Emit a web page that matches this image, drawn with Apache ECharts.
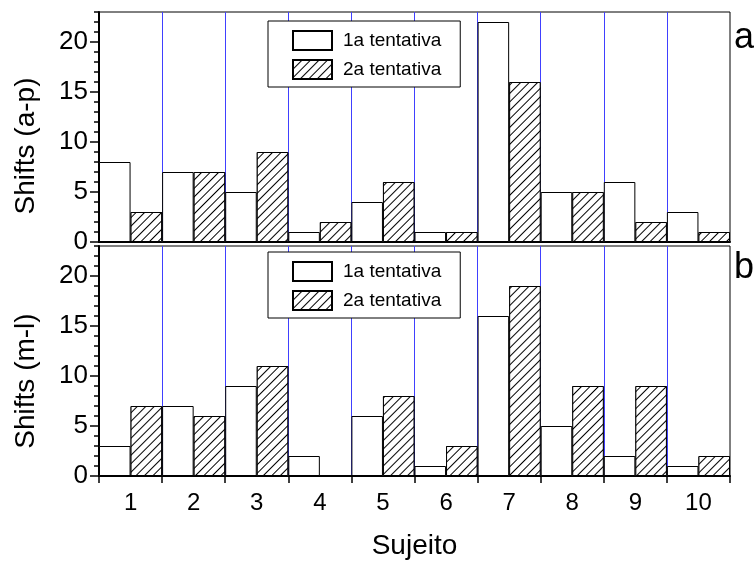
<!DOCTYPE html>
<html>
<head>
<meta charset="utf-8">
<script src="https://cdn.jsdelivr.net/npm/echarts@6/dist/echarts.min.js"></script>
<style>html,body{margin:0;padding:0;background:#fff}#c{width:754px;height:561px}</style>
</head>
<body>
<div id="c"></div>
<script>
const categories = ['1','2','3','4','5','6','7','8','9','10'];
const topFirst = [8, 7, 5, 1, 4, 1, 22, 5, 6, 3];
const topSecond = [3, 7, 9, 2, 6, 1, 16, 5, 2, 1];
const botFirst = [3, 7, 9, 2, 6, 1, 16, 5, 2, 1];
const botSecond = [7, 6, 11, 0, 8, 3, 19, 9, 9, 2];
const yMajorTicks = [0, 5, 10, 15, 20];
const yMinorTicks = [0,1,2,3,4,5,6,7,8,9,10,11,12,13,14,15,16,17,18,19,20,21,22,23];
const seriesNames = ['1a tentativa', '2a tentativa'];

const FONT = 'Liberation Sans';
const chart = echarts.init(document.getElementById('c'), null, {renderer: 'canvas'});

const hatch = {
  symbol: 'rect', symbolSize: 1, dashArrayX: [1, 0], dashArrayY: [1, 4.5],
  rotation: -Math.PI / 4, color: '#000', backgroundColor: '#fff'
};

function xAxisFor(gi, showLabels) {
  return {
    type: 'category', gridIndex: gi, data: categories,
    boundaryGap: true,
    axisLine: {lineStyle: {color: '#000', width: 2}},
    axisTick: {show: showLabels, length: 7, lineStyle: {color: '#000', width: 1.5}, interval: 0},
    axisLabel: {show: showLabels, fontFamily: FONT, fontSize: 24, color: '#000', margin: 15, interval: 0},
    splitLine: {show: true, interval: 0, showMinLine: false, showMaxLine: false, lineStyle: {color: '#4040ff', width: 1}},
    name: showLabels ? 'Sujeito' : '',
    nameLocation: 'middle', nameGap: 56,
    nameTextStyle: {fontFamily: FONT, fontSize: 28, color: '#000'}
  };
}
function yMajor(gi) {
  return {
    type: 'value', gridIndex: gi, min: 0, max: 23, position: 'left',
    axisLine: {show: true, lineStyle: {color: '#000', width: 2}},
    axisTick: {show: true, customValues: yMajorTicks, length: 9, lineStyle: {color: '#000', width: 1.5}},
    axisLabel: {customValues: yMajorTicks, fontFamily: FONT, fontSize: 26, color: '#000', margin: 11},
    splitLine: {show: false}
  };
}
function yMinor(gi) {
  return {
    type: 'value', gridIndex: gi, min: 0, max: 23, position: 'left', offset: 0,
    axisLine: {show: false},
    axisTick: {show: true, customValues: yMinorTicks, length: 5, lineStyle: {color: '#000', width: 1.5}},
    axisLabel: {show: false},
    splitLine: {show: false}
  };
}
function bar(name, data, xi, yi, decal) {
  const itemStyle = {color: '#fff', borderColor: '#000', borderWidth: 1};
  if (decal) itemStyle.decal = decal;
  return {
    type: 'bar', name: name, xAxisIndex: xi, yAxisIndex: yi, data: data,
    barGap: '0%', barCategoryGap: '0%',
    itemStyle: itemStyle,
    emphasis: {disabled: true}, animation: false
  };
}
function legendAt(top) {
  return {
    left: 268, top: top, orient: 'vertical',
    data: seriesNames,
    padding: [9, 19, 7, 24], itemGap: 8, itemWidth: 39, itemHeight: 19,
    icon: 'rect',
    borderColor: '#000', borderWidth: 1, backgroundColor: '#fff',
    textStyle: {fontFamily: FONT, fontSize: 19, color: '#000', padding: [0, 0, 0, 6]},
    selectedMode: false
  };
}

chart.setOption({
  animation: false,
  grid: [
    {left: 99, right: 24, top: 12, height: 230, show: true, borderColor: '#000', borderWidth: 1, backgroundColor: 'transparent'},
    {left: 99, right: 24, top: 246, height: 230, show: true, borderColor: '#000', borderWidth: 1, backgroundColor: 'transparent'}
  ],
  xAxis: [xAxisFor(0, false), xAxisFor(1, true)],
  yAxis: [yMajor(0), yMinor(0), yMajor(1), yMinor(1)],
  legend: [legendAt(21), legendAt(252)],
  series: [
    bar(seriesNames[0], topFirst, 0, 0, null),
    bar(seriesNames[1], topSecond, 0, 0, hatch),
    bar(seriesNames[0], botFirst, 1, 2, null),
    bar(seriesNames[1], botSecond, 1, 2, hatch)
  ],
  graphic: [
    {type: 'text', x: 26, y: 146, rotation: Math.PI / 2,
     style: {text: 'Shifts (a-p)', fontFamily: FONT, fontSize: 28, fill: '#000', align: 'center', verticalAlign: 'middle'}},
    {type: 'text', x: 26, y: 381, rotation: Math.PI / 2,
     style: {text: 'Shifts (m-l)', fontFamily: FONT, fontSize: 28, fill: '#000', align: 'center', verticalAlign: 'middle'}},
    {type: 'text', x: 744, y: 38,
     style: {text: 'a', fontFamily: FONT, fontSize: 36, fill: '#000', align: 'center', verticalAlign: 'middle'}},
    {type: 'text', x: 744, y: 268,
     style: {text: 'b', fontFamily: FONT, fontSize: 36, fill: '#000', align: 'center', verticalAlign: 'middle'}}
  ]
});
</script>
</body>
</html>
